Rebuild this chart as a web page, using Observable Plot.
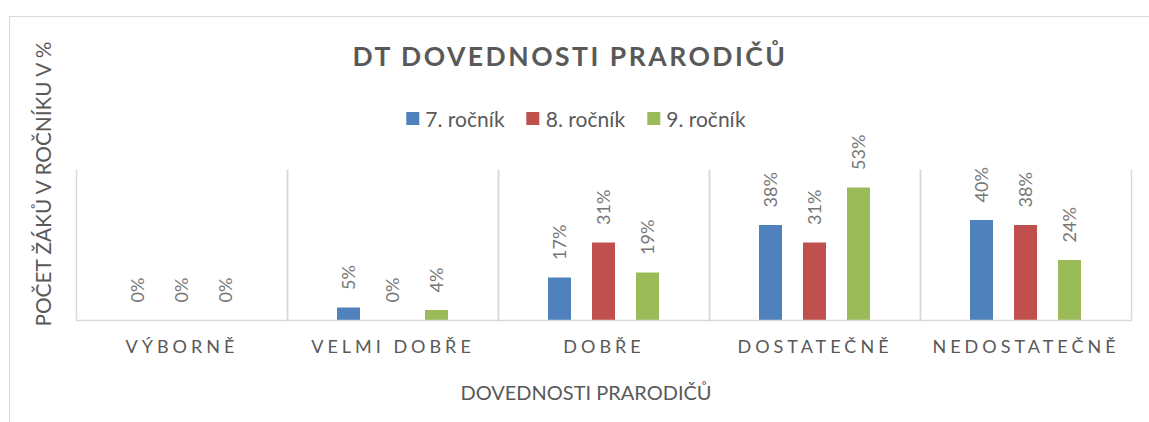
<!DOCTYPE html>
<html>
<head>
<meta charset="utf-8">
<script src="https://cdn.jsdelivr.net/npm/d3@7"></script>
<script src="https://cdn.jsdelivr.net/npm/@observablehq/plot@0.6"></script>
<style>
  html, body { margin: 0; padding: 0; background: #fff; }
  body { width: 1149px; height: 422px; overflow: hidden; font-family: Lato, "Open Sans", sans-serif; color: #595959; }
  #wrap { position: relative; width: 1149px; height: 422px; }
  #border { position: absolute; left: 9px; top: 16px; width: 1160px; height: 420px; border-top: 1.5px solid #d9d9d9; border-left: 1.5px solid #d9d9d9; box-sizing: border-box; }
  #chart { position: absolute; left: 0; top: 120px; }
  #title { position: absolute; left: 570px; top: 40px; transform: translateX(-50%); white-space: nowrap; font-weight: bold; font-size: 26.5px; letter-spacing: 2.5px; color: #595959; }
  #legend { position: absolute; left: 576px; top: 106px; transform: translateX(-50%); display: flex; gap: 22px; font-size: 21px; color: #595959; white-space: nowrap; }
  #legend .item { display: flex; align-items: center; gap: 6px; }
  #legend .sw { width: 13px; height: 13px; display: inline-block; }
  #xlabel { position: absolute; left: 586px; top: 380px; transform: translateX(-50%); white-space: nowrap; font-size: 20px; color: #595959; }
  #ylabel { position: absolute; left: 42px; top: 184px; transform: translate(-50%, -50%) rotate(-90deg); white-space: nowrap; font-size: 20.8px; color: #595959; }
</style>
</head>
<body>
<div id="wrap">
  <div id="border"></div>
  <div id="chart"></div>
  <div id="title"></div>
  <div id="legend"></div>
  <div id="xlabel"></div>
  <div id="ylabel"></div>
</div>
<script>
const chartTitle = "DT DOVEDNOSTI PRARODIČŮ";
const xTitle = "DOVEDNOSTI PRARODIČŮ";
const yTitle = "POČET ŽÁKŮ V ROČNÍKU V %";
const categories = ["VÝBORNĚ", "VELMI DOBŘE", "DOBŘE", "DOSTATEČNĚ", "NEDOSTATEČNĚ"];
const series = ["7. ročník", "8. ročník", "9. ročník"];
const values7 = [0, 5, 17, 38, 40];
const values8 = [0, 0, 31, 31, 38];
const values9 = [0, 4, 19, 53, 24];
const colors = ["#4f81bd", "#c0504d", "#9bbb59"];

const seriesValues = [values7, values8, values9];
const data = [];
categories.forEach((c, i) => {
  series.forEach((s, j) => data.push({cat: c, series: s, value: seriesValues[j][i]}));
});

document.getElementById("title").textContent = chartTitle;
document.getElementById("xlabel").textContent = xTitle;
document.getElementById("ylabel").textContent = yTitle;
const legend = document.getElementById("legend");
series.forEach((s, j) => {
  const it = document.createElement("div");
  it.className = "item";
  const sw = document.createElement("span");
  sw.className = "sw";
  sw.style.background = colors[j];
  const t = document.createElement("span");
  t.textContent = s;
  it.appendChild(sw); it.appendChild(t);
  legend.appendChild(it);
});

const grid = "#d9d9d9";
const chart = Plot.plot({
  width: 1149,
  height: 245,
  marginLeft: 76,
  marginRight: 18,
  marginTop: 50,
  marginBottom: 45,
  style: {fontFamily: "Lato, 'Open Sans', sans-serif", background: "transparent", overflow: "visible"},
  fx: {domain: categories, padding: 0, axis: null, label: null},
  x: {domain: series, axis: null, paddingInner: 0.477, paddingOuter: 1.136},
  y: {domain: [0, 60], axis: null},
  color: {domain: series, range: colors},
  marks: [
    Plot.frame({anchor: "left", stroke: grid, strokeWidth: 1.5}),
    Plot.frame({anchor: "right", stroke: grid, strokeWidth: 1.5}),
    Plot.barY(data, {fx: "cat", x: "series", y: "value", fill: "series"}),
    Plot.text(data, {fx: "cat", x: "series", y: "value", text: d => d.value + "%", rotate: -90, textAnchor: "start", dy: -18, fontSize: 18, fill: "#767676"}),
    Plot.ruleY([0], {stroke: grid, strokeWidth: 1.5}),
    Plot.text(categories, {fx: d => d, text: d => d, frameAnchor: "bottom", dy: 32, fontSize: 18, fill: "#595959"})
  ]
});
document.getElementById("chart").appendChild(chart);
d3.select(chart).selectAll("text").filter(function() { return categories.includes(this.textContent); })
  .style("letter-spacing", "4px");
</script>
</body>
</html>
